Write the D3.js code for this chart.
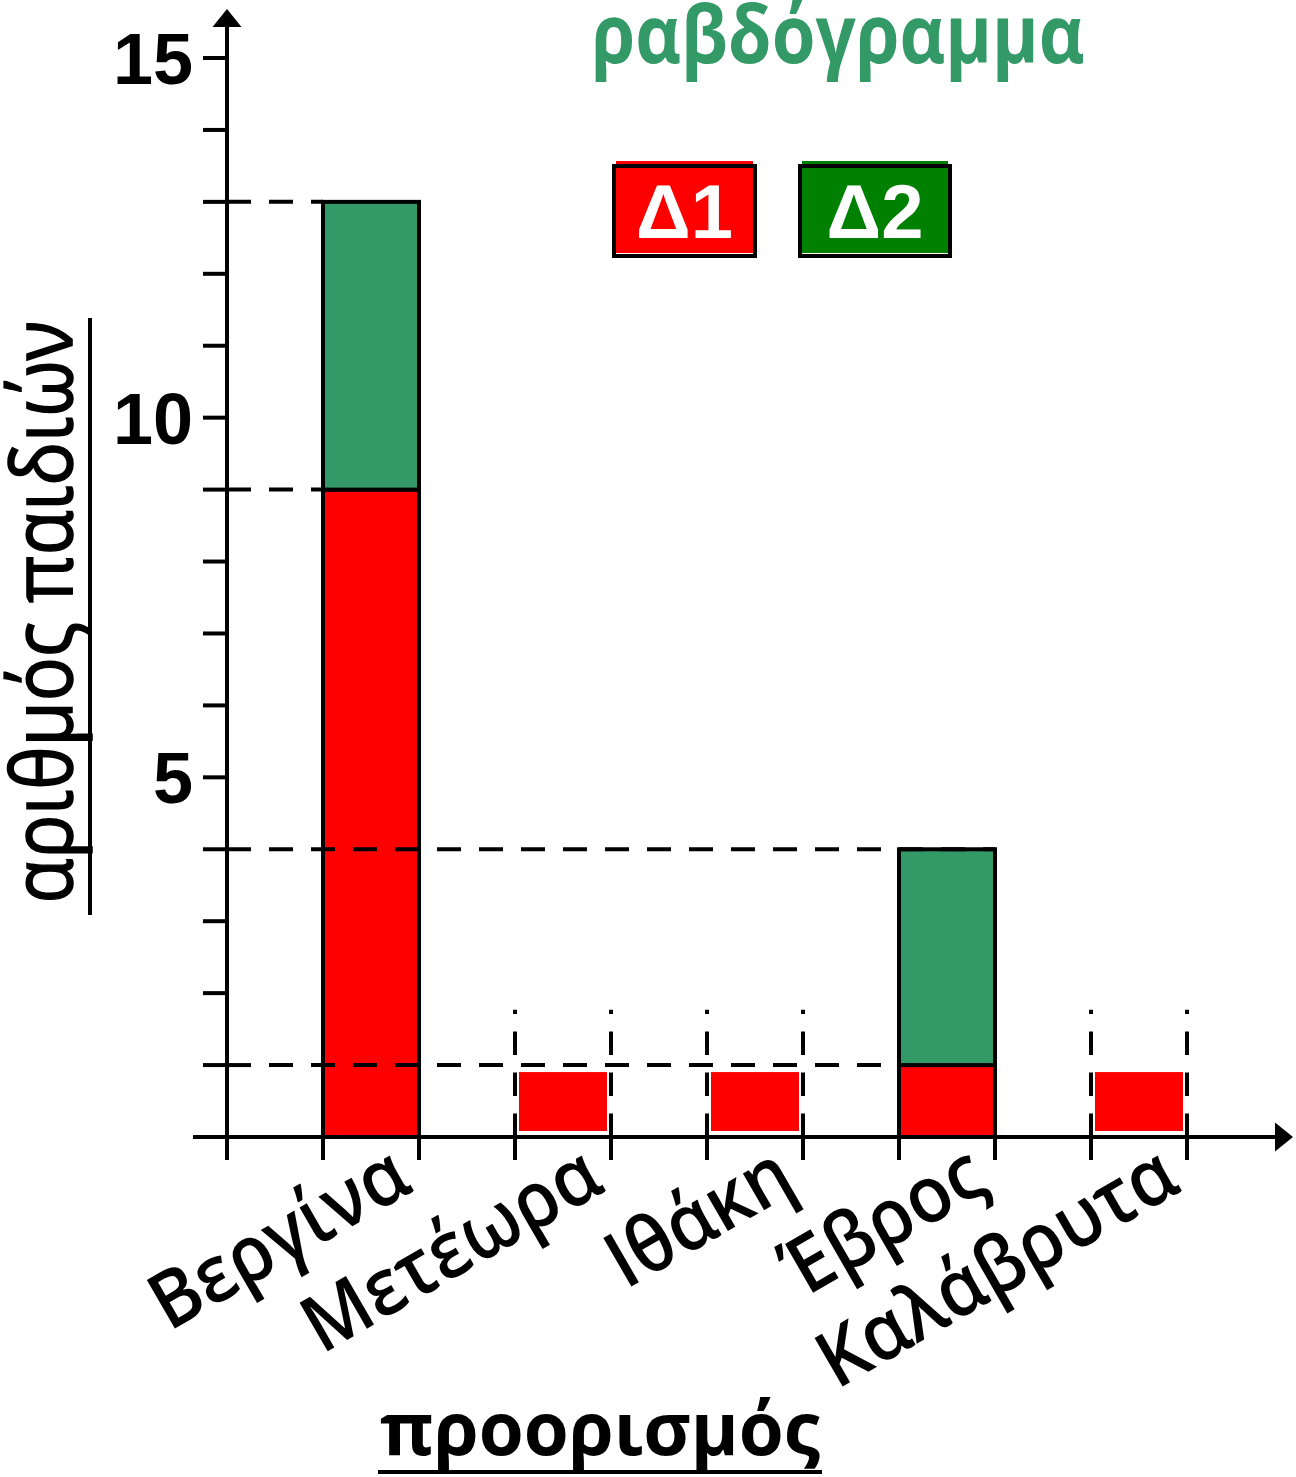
<!DOCTYPE html>
<html><head><meta charset="utf-8">
<script src="https://cdn.jsdelivr.net/npm/d3@7"></script>
<style>html,body{margin:0;padding:0;background:#fff;}svg{display:block;}</style>
</head><body>
<svg id="chart" width="1296" height="1477"></svg>
<script>
const categories = ["Βεργίνα", "Μετέωρα", "Ιθάκη", "Έβρος", "Καλάβρυτα"];
const seriesD1 = [9, 1, 1, 1, 1];
const seriesD2 = [4, 0, 0, 3, 0];
const yTickLabels = [5, 10, 15];
const seriesNames = ["Δ1", "Δ2"];
const guideLevels = [13, 9, 4, 1];
const guideTargets = ["Βεργίνα", "Βεργίνα", "Έβρος", "Έβρος"];
const guideEdges = ["left", "left", "right", "left"];
const framedCats = ["Μετέωρα", "Ιθάκη", "Καλάβρυτα"];
const frameTop = 1.77;

const RED = "#ff0000", GREEN = "#339966", LEGEND_GREEN = "#008000";

function draw() {
  const svg = d3.select("#chart");
  const x = d3.scaleBand().domain(categories).range([227, 1283]).paddingInner(0.5).paddingOuter(0.5);
  const y = d3.scaleLinear().domain([0, 15]).range([1137, 58]);
  const bw = x.bandwidth();
  const x0 = 227, y0 = y(0);

  // Bars
  const data = categories.map((c, i) => ({c, d1: seriesD1[i], d2: seriesD2[i], framed: framedCats.includes(c)}));
  const g = svg.append("g");
  data.filter(d => !d.framed).forEach(d => {
    g.append("rect").attr("x", x(d.c)).attr("width", bw)
      .attr("y", y(d.d1)).attr("height", y0 - y(d.d1))
      .attr("fill", RED).attr("stroke", "#000").attr("stroke-width", 4);
    if (d.d2 > 0) {
      g.append("rect").attr("x", x(d.c)).attr("width", bw)
        .attr("y", y(d.d1 + d.d2)).attr("height", y(d.d1) - y(d.d1 + d.d2))
        .attr("fill", GREEN).attr("stroke", "#000").attr("stroke-width", 4);
    }
  });
  data.filter(d => d.framed).forEach(d => {
    g.append("rect").attr("x", x(d.c) + 4).attr("width", bw - 8)
      .attr("y", y(d.d1) + 7).attr("height", (y0 - 6) - (y(d.d1) + 7))
      .attr("fill", RED);
    [x(d.c), x(d.c) + bw].forEach(xx => {
      g.append("line").attr("x1", xx).attr("x2", xx).attr("y1", y0).attr("y2", y(frameTop))
        .attr("stroke", "#000").attr("stroke-width", 4).attr("stroke-dasharray", "23.5,17.5");
    });
  });

  // Horizontal guides
  guideLevels.forEach((v, i) => {
    const xe = x(guideTargets[i]) + (guideEdges[i] === "right" ? bw : 0);
    svg.append("line").attr("x1", x0).attr("x2", xe).attr("y1", y(v)).attr("y2", y(v))
      .attr("stroke", "#000").attr("stroke-width", 4).attr("stroke-dasharray", "24,18");
  });

  // Axes
  const ax = svg.append("g").attr("stroke", "#000").attr("stroke-width", 4);
  ax.append("line").attr("x1", x0).attr("x2", x0).attr("y1", 22).attr("y2", 1160);
  ax.append("path").attr("d", `M${x0},9 L${x0 + 14.5},27 L${x0 - 14.5},27 Z`).attr("fill", "#000").attr("stroke", "none");
  ax.append("line").attr("x1", 193).attr("x2", 1280).attr("y1", y0).attr("y2", y0);
  ax.append("path").attr("d", `M1293,${y0} L1275,${y0 - 14.5} L1275,${y0 + 14.5} Z`).attr("fill", "#000").attr("stroke", "none");
  d3.range(1, 16).forEach(v => {
    ax.append("line").attr("x1", 203).attr("x2", x0).attr("y1", y(v)).attr("y2", y(v));
  });
  categories.forEach(c => {
    [x(c), x(c) + bw].forEach(xx => ax.append("line").attr("x1", xx).attr("x2", xx).attr("y1", y0).attr("y2", 1160));
  });

  // Y tick labels
  svg.selectAll(".ytl").data(yTickLabels).join("text")
    .attr("x", 193).attr("y", d => y(d)).attr("dy", "0.36em")
    .attr("text-anchor", "end")
    .style("font-family", "'Liberation Sans', Arial, sans-serif").style("font-weight", "bold").style("font-size", "72px")
    .text(d => d);

  function fit(sel, target) {
    sel.style("font-size", "100px");
    const L = sel.node().getComputedTextLength();
    return 100 * target / L;
  }

  // Category labels
  const kCat = 1.08;
  const labels = svg.selectAll(".cl").data(categories).join("text")
    .attr("text-anchor", "end")
    .style("font-family", "'Open Sans', sans-serif").style("font-weight", "600")
    .text(d => d);
  const kal = labels.filter(d => d === "Καλάβρυτα");
  const sCat = fit(kal, 400);
  labels.style("font-size", (sCat * kCat) + "px")
    .attr("transform", d => `translate(${x(d) + bw - 4},1190) rotate(-30) scale(${1 / kCat},1)`);

  // Title
  const kT = 1.14;
  const title = svg.append("text").attr("text-anchor", "middle")
    .style("font-family", "'Open Sans', sans-serif").style("font-weight", "bold").attr("fill", GREEN)
    .text("ραβδόγραμμα");
  const sT = fit(title, 493);
  title.style("font-size", (sT * kT) + "px").attr("transform", `translate(838,63) scale(${1 / kT},1)`);

  // X label
  const xl = svg.append("text").attr("x", 600).attr("y", 1455).attr("text-anchor", "middle")
    .style("font-family", "'Open Sans', sans-serif").style("font-weight", "bold")
    .text("προορισμός");
  xl.style("font-size", fit(xl, 440) + "px");
  svg.append("line").attr("x1", 378).attr("x2", 822).attr("y1", 1472).attr("y2", 1472).attr("stroke", "#000").attr("stroke-width", 4);

  // Y label
  const kY = 1.15;
  const yl = svg.append("text").attr("text-anchor", "middle")
    .style("font-family", "'Open Sans', sans-serif").style("font-weight", "normal")
    .attr("stroke", "#000").attr("stroke-width", 1.6)
    .text("αριθμός παιδιών");
  const sY = fit(yl, 583);
  yl.style("font-size", (sY * kY) + "px").attr("transform", `translate(72,612) rotate(-90) scale(${1 / kY},1)`);
  svg.append("line").attr("x1", 90).attr("x2", 90).attr("y1", 318).attr("y2", 915).attr("stroke", "#000").attr("stroke-width", 4);

  // Legend
  const legX = [614, 800], legW = [141, 150], legFill = [RED, LEGEND_GREEN];
  seriesNames.forEach((n, i) => {
    svg.append("rect").attr("x", legX[i] + 2).attr("y", 161).attr("width", legW[i] - 4).attr("height", 92).attr("fill", legFill[i]);
    svg.append("rect").attr("x", legX[i]).attr("y", 166).attr("width", legW[i]).attr("height", 90)
      .attr("fill", "none").attr("stroke", "#000").attr("stroke-width", 4);
    svg.append("text").attr("x", legX[i] + legW[i] / 2).attr("y", 211).attr("dy", "0.36em").attr("text-anchor", "middle")
      .attr("fill", "#fff").style("font-family", "'Liberation Sans', Arial, sans-serif").style("font-weight", "bold").style("font-size", "76px")
      .text(n);
  });
}
if (document.fonts && document.fonts.ready) document.fonts.ready.then(draw); else draw();
</script>
</body></html>
